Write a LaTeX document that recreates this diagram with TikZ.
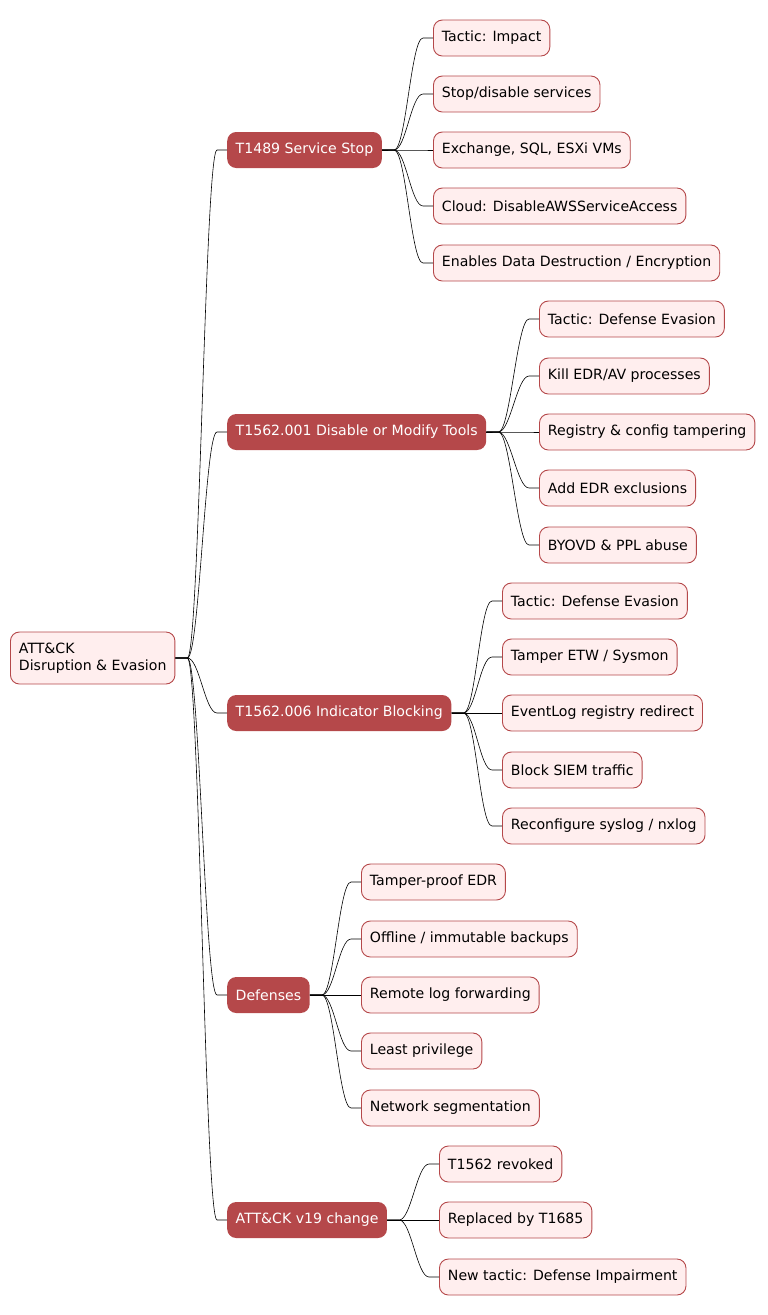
\documentclass[tikz,border=0pt]{standalone}
\usepackage{fontspec}
\setmainfont{DejaVu Sans}
\usetikzlibrary{calc}
\definecolor{dk}{HTML}{B5484A}
\definecolor{lt}{HTML}{FFEEEE}
\begin{document}
\begin{tikzpicture}[x=1pt,y=-1pt,
  base/.style={anchor=west,rounded corners=9pt,minimum height=36pt,inner xsep=8.5pt,font=\fontsize{14.1}{17}\selectfont},
  leaf/.style={base,draw=dk,fill=lt,line width=0.9pt,text=black},
  mid/.style={base,fill=dk,text=white},
  con/.style={draw=black,line width=0.6pt}]
\useasboundingbox (0,0) rectangle (768,1315);
\node[leaf,align=left,minimum height=52pt] (root) at (10,658) {ATT\&CK\\Disruption \& Evasion};
\node[mid] (a) at (227,150) {T1489 Service Stop};
\node[mid] (b) at (227,432) {T1562.001 Disable or Modify Tools};
\node[mid] (c) at (227,713) {T1562.006 Indicator Blocking};
\node[mid] (d) at (227,995) {Defenses};
\node[mid] (e) at (227,1220) {ATT\&CK v19 change};
\foreach \n/\y/\t in {a1/38/{Tactic: Impact},a2/94/{Stop/disable services},a3/150/{Exchange, SQL, ESXi VMs},a4/206/{Cloud: DisableAWSServiceAccess},a5/263/{Enables Data Destruction / Encryption}}
  \node[leaf] (\n) at (433,\y) {\t};
\foreach \n/\y/\t in {b1/319/{Tactic: Defense Evasion},b2/376/{Kill EDR/AV processes},b3/432/{Registry \& config tampering},b4/488/{Add EDR exclusions},b5/545/{BYOVD \& PPL abuse}}
  \node[leaf] (\n) at (539,\y) {\t};
\foreach \n/\y/\t in {c1/601/{Tactic: Defense Evasion},c2/657/{Tamper ETW / Sysmon},c3/713/{EventLog registry redirect},c4/770/{Block SIEM traffic},c5/826/{Reconfigure syslog / nxlog}}
  \node[leaf] (\n) at (502,\y) {\t};
\foreach \n/\y/\t in {d1/882/{Tamper-proof EDR},d2/939/{Offline / immutable backups},d3/995/{Remote log forwarding},d4/1051/{Least privilege},d5/1108/{Network segmentation}}
  \node[leaf] (\n) at (361,\y) {\t};
\foreach \n/\y/\t in {e1/1164/{T1562 revoked},e2/1220/{Replaced by T1685},e3/1277/{New tactic: Defense Impairment}}
  \node[leaf] (\n) at (439,\y) {\t};
\foreach \p/\c in {root/a,root/b,root/c,root/d,root/e,a/a1,a/a2,a/a3,a/a4,a/a5,b/b1,b/b2,b/b3,b/b4,b/b5,c/c1,c/c2,c/c3,c/c4,c/c5,d/d1,d/d2,d/d3,d/d4,d/d5,e/e1,e/e2,e/e3}
  \draw[con] (\p.east) -- ++(12,0) .. controls +(12,0) and ($(\c.west)+(-22,0)$) .. ($(\c.west)+(-10,0)$) -- (\c.west);
\end{tikzpicture}
\end{document}
